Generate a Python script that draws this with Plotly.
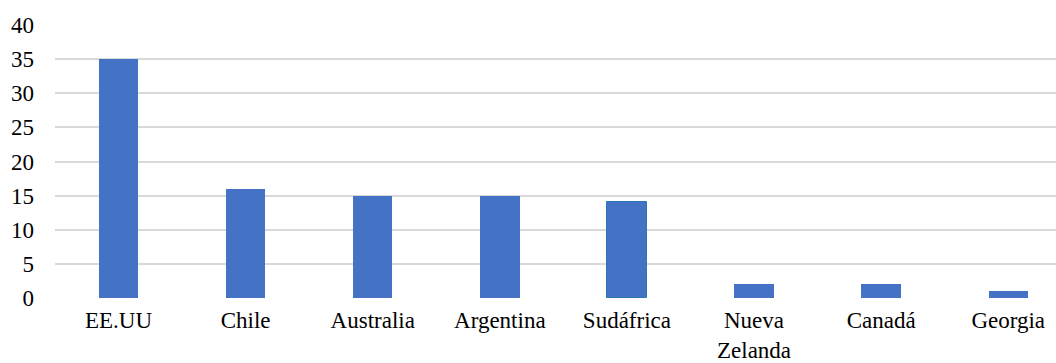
import plotly.graph_objects as go

categories = ["EE.UU", "Chile", "Australia", "Argentina", "Sudáfrica", "Nueva<br>Zelanda", "Canadá", "Georgia"]
values = [35, 16, 15, 15, 14, 2, 2, 1]
y_ticks = [0, 5, 10, 15, 20, 25, 30, 35, 40]

line_colors = ["#4472C4"] * len(categories)
line_colors[4] = "#2E75B6"
line_widths = [0, 0, 0, 0, 1, 0, 0, 0]

FONT = "Liberation Serif"

fig = go.Figure(go.Bar(
    x=categories, y=values, width=0.31,
    marker=dict(color="#4472C4", line=dict(color=line_colors, width=line_widths)),
))

fig.update_layout(
    width=1056, height=363,
    margin=dict(l=55, r=0, t=25, b=65, autoexpand=False),
    plot_bgcolor="white", paper_bgcolor="white",
    font=dict(family=FONT, size=23, color="#000000"),
    showlegend=False,
    bargap=0,
)
fig.update_xaxes(range=[-0.5, 7.376], showgrid=False, showline=False, zeroline=False,
                 ticks="", ticklabelstandoff=6, tickangle=0, automargin=False)
fig.update_yaxes(range=[0, 40], tickvals=y_ticks, showgrid=True, gridcolor="#D9D9D9", gridwidth=2,
                 zeroline=False, showline=False, ticks="", ticklabelstandoff=20, automargin=False)

fig.write_html("out.html")
